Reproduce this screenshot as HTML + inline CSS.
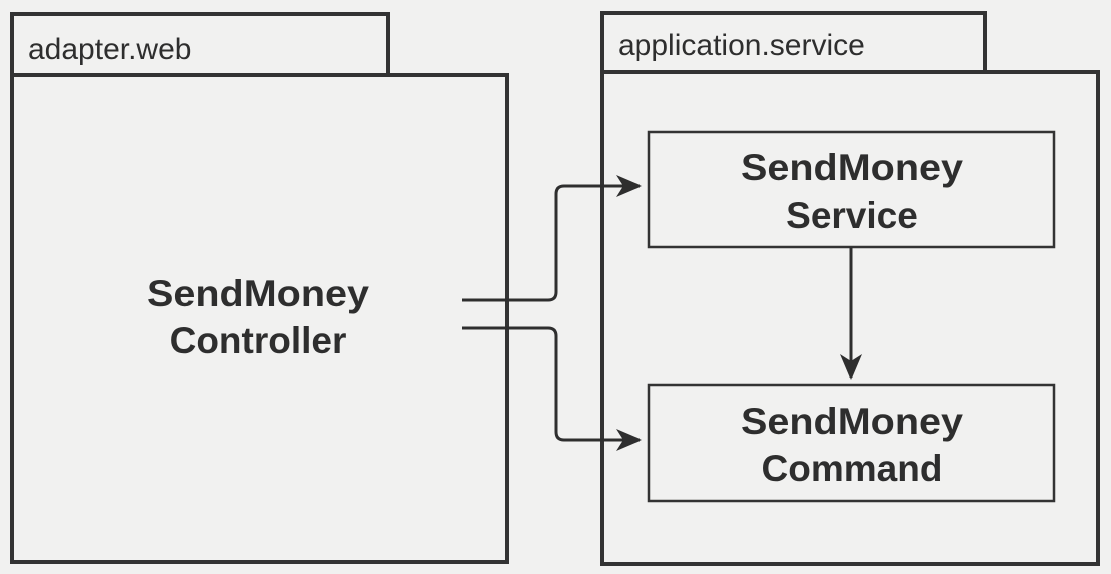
<!DOCTYPE html>
<html><head><style>
html,body{margin:0;padding:0;background:#f1f1f0;}
svg{display:block;}
text{font-family:"Liberation Sans","DejaVu Sans",sans-serif;fill:#2e2e2e;}
</style></head><body>
<svg width="1111" height="574" viewBox="0 0 1111 574">
<rect width="1111" height="574" fill="#f1f1f0"/>
<defs>
<marker id="b" markerWidth="26" markerHeight="22" refX="24" refY="11" orient="auto" markerUnits="userSpaceOnUse"><path d="M0,0 L26,11 L0,22 L7,11 Z" fill="#2e2e2e"/></marker></defs>
<g fill="none" stroke="#333" stroke-width="4">
<rect x="12" y="14" width="376" height="61"/>
<rect x="12" y="75" width="495" height="487"/>
<rect x="602" y="13" width="383" height="59"/>
<rect x="602" y="72" width="496" height="492"/>
</g>
<g fill="none" stroke="#333" stroke-width="2.5">
<rect x="649" y="132" width="405" height="115"/>
<rect x="649" y="385" width="405" height="116"/>
</g>
<g fill="none" stroke="#2e2e2e" stroke-width="3">
<path d="M462,300 H548 Q556,300 556,292 V194 Q556,186 564,186 H640" marker-end="url(#b)"/>
<path d="M462,328 H548 Q556,328 556,336 V432 Q556,440 564,440 H640" marker-end="url(#b)"/>
<path d="M851,247 V378" marker-end="url(#b)"/>
</g>
<text x="28" y="59" font-size="30" font-weight="500">adapter.web</text>
<text x="618" y="55" font-size="30">application.service</text>
<g font-weight="bold" font-size="37" text-anchor="middle">
<text x="258" y="306" textLength="222" lengthAdjust="spacingAndGlyphs">SendMoney</text>
<text x="258" y="353">Controller</text>
<text x="852" y="180" textLength="222" lengthAdjust="spacingAndGlyphs">SendMoney</text>
<text x="852" y="228">Service</text>
<text x="852" y="434" textLength="222" lengthAdjust="spacingAndGlyphs">SendMoney</text>
<text x="852" y="481">Command</text>
</g>
</svg>
</body></html>
